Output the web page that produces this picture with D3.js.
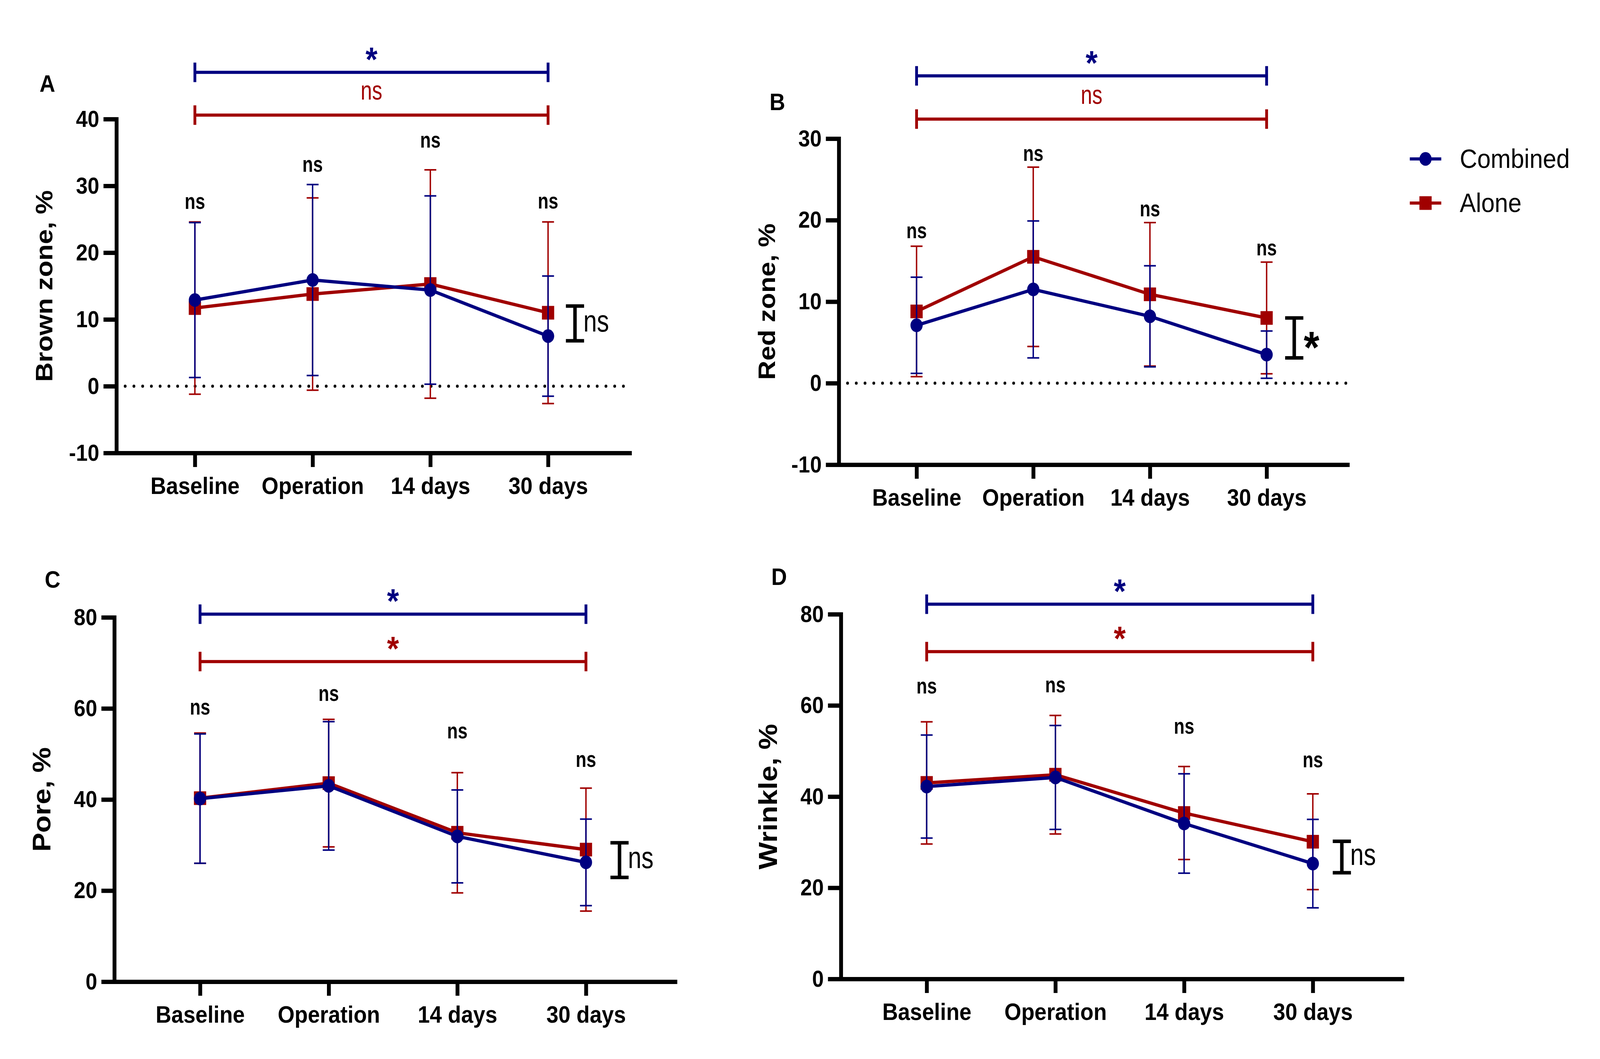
<!DOCTYPE html>
<html>
<head>
<meta charset="utf-8">
<script src="https://cdn.jsdelivr.net/npm/d3@7"></script>
<style>
  html, body { margin: 0; padding: 0; overflow: hidden; background: #fff; }
  svg { display: block; width: 100vw; height: 100vh; }
</style>
</head>
<body>
<svg id="chart" viewBox="0 0 4576 2712" preserveAspectRatio="none"></svg>
<script>
// ---- data ----
const categories = ['Baseline', 'Operation', '14 days', '30 days'];
const seriesNames = ['Combined', 'Alone'];

// A - brown zone
const brownCombinedMean = [12.9, 15.9, 14.4, 7.5];
const brownCombinedSD   = [11.6, 14.3, 14.1, 9.0];
const brownAloneMean    = [11.7, 13.8, 15.3, 11.0];
const brownAloneSD      = [12.9, 14.4, 17.1, 13.6];
const brownTicks        = [-10, 0, 10, 20, 30, 40];
const brownNsLevels     = [27.4, 33.0, 36.6, 27.5];
const brownBrackets     = [47.0, 40.6];          // combined, alone
const brownBracketText  = ['*', 'ns'];
const brownEndRange     = [6.8, 12.0];
const brownEndText      = 'ns';

// B - red zone
const redCombinedMean = [7.1, 11.5, 8.2, 3.5];
const redCombinedSD   = [5.9, 8.4, 6.2, 2.9];
const redAloneMean    = [8.8, 15.5, 10.9, 8.0];
const redAloneSD      = [8.0, 11.0, 8.8, 6.85];
const redTicks        = [-10, 0, 10, 20, 30];
const redNsLevels     = [18.5, 28.0, 21.2, 16.4];
const redBrackets     = [37.7, 32.4];
const redBracketText  = ['*', 'ns'];
const redEndRange     = [3.1, 8.0];
const redEndText      = '*';

// C - pore
const poreCombinedMean = [40.2, 43.0, 31.9, 26.2];
const poreCombinedSD   = [14.2, 14.1, 10.2, 9.5];
const poreAloneMean    = [40.3, 43.6, 32.7, 29.0];
const poreAloneSD      = [14.3, 14.0, 13.2, 13.5];
const poreTicks        = [0, 20, 40, 60, 80];
const poreNsLevels     = [59.9, 62.9, 54.7, 48.4];
const poreBrackets     = [80.7, 70.3];
const poreBracketText  = ['*', '*'];
const poreEndRange     = [22.9, 30.5];
const poreEndText      = 'ns';

// D - wrinkle
const wrinkleCombinedMean = [42.2, 44.2, 34.1, 25.3];
const wrinkleCombinedSD   = [11.3, 11.4, 10.9, 9.7];
const wrinkleAloneMean    = [43.0, 44.8, 36.4, 30.1];
const wrinkleAloneSD      = [13.4, 13.0, 10.2, 10.5];
const wrinkleTicks        = [0, 20, 40, 60, 80];
const wrinkleNsLevels     = [63.9, 64.1, 55.1, 47.7];
const wrinkleBrackets     = [82.2, 71.8];
const wrinkleBracketText  = ['*', '*'];
const wrinkleEndRange     = [23.3, 30.2];
const wrinkleEndText      = 'ns';

// ---- styling ----
const FONT = '"Liberation Sans", Arial, sans-serif';
const colors = { Combined: '#000080', Alone: '#a00000' };

const panels = [
  { letter: 'A', title: 'Brown zone, %', left: 333, right: 1801, top: 305, bottom: 1160,
    domain: [-10, 40], ticks: brownTicks, zero: true, titleSize: 69, letterPos: [113, 235], endOffset: 77,
    series: { Combined: [brownCombinedMean, brownCombinedSD], Alone: [brownAloneMean, brownAloneSD] },
    ns: brownNsLevels, brackets: brownBrackets, bracketText: brownBracketText,
    endRange: brownEndRange, endText: brownEndText },
  { letter: 'B', title: 'Red zone, %', left: 2399, right: 3854, top: 355, bottom: 1190,
    domain: [-10, 30], ticks: redTicks, zero: true, titleSize: 68, letterPos: [2201, 282], endOffset: 79,
    series: { Combined: [redCombinedMean, redCombinedSD], Alone: [redAloneMean, redAloneSD] },
    ns: redNsLevels, brackets: redBrackets, bracketText: redBracketText,
    endRange: redEndRange, endText: redEndText },
  { letter: 'C', title: 'Pore, %', left: 327, right: 1931, top: 1581, bottom: 2514,
    domain: [0, 80], ticks: poreTicks, zero: false, titleSize: 73, letterPos: [128, 1505], endOffset: 96,
    series: { Combined: [poreCombinedMean, poreCombinedSD], Alone: [poreAloneMean, poreAloneSD] },
    ns: poreNsLevels, brackets: poreBrackets, bracketText: poreBracketText,
    endRange: poreEndRange, endText: poreEndText },
  { letter: 'D', title: 'Wrinkle, %', left: 2405, right: 4010, top: 1573, bottom: 2507,
    domain: [0, 80], ticks: wrinkleTicks, zero: false, titleSize: 74, letterPos: [2206, 1498], endOffset: 83,
    series: { Combined: [wrinkleCombinedMean, wrinkleCombinedSD], Alone: [wrinkleAloneMean, wrinkleAloneSD] },
    ns: wrinkleNsLevels, brackets: wrinkleBrackets, bracketText: wrinkleBracketText,
    endRange: wrinkleEndRange, endText: wrinkleEndText }
];

const svg = d3.select('#chart');

function marker(g, name, cx, cy) {
  if (name === 'Combined') {
    g.append('circle').attr('cx', cx).attr('cy', cy).attr('r', 17.5).attr('fill', colors[name]);
  } else {
    g.append('rect').attr('x', cx - 17.5).attr('y', cy - 17.5)
      .attr('width', 35).attr('height', 35).attr('fill', colors[name]);
  }
}

// the "ns" marks in the figure are set a little narrow
function nsText(g, x, yc, size, weight, color, anchor, sx) {
  return g.append('text')
    .attr('transform', `translate(${x},${yc + 0.26 * size}) scale(${sx},1)`)
    .attr('text-anchor', anchor).attr('font-family', FONT).attr('font-weight', weight)
    .attr('font-size', size).attr('fill', color).text('ns');
}

function starText(g, x, yc, size, color, anchor) {
  return g.append('text').attr('x', x).attr('y', yc + 0.55 * size)
    .attr('text-anchor', anchor).attr('font-family', FONT).attr('font-weight', 'bold')
    .attr('font-size', size).attr('fill', color).text('*');
}

function drawPanel(p) {
  const g = svg.append('g').attr('class', 'panel');

  const y = d3.scaleLinear().domain(p.domain).range([p.bottom, p.top]);
  const x = d3.scalePoint().domain(categories).range([p.left, p.right]).padding(0.68).align(0.49);

  // axes
  const yAxis = g.append('g').attr('transform', `translate(${p.left},0)`)
    .call(d3.axisLeft(y).tickValues(p.ticks).tickFormat(d => String(d))
      .tickSize(37).tickSizeOuter(0).tickPadding(12));
  const xAxis = g.append('g').attr('transform', `translate(0,${p.bottom})`)
    .call(d3.axisBottom(x).tickSize(36).tickSizeOuter(0).tickPadding(25));

  [yAxis, xAxis].forEach(a => {
    a.attr('font-family', FONT).attr('font-weight', 'bold');
    a.select('.domain').attr('stroke', '#000').attr('stroke-width', 11).attr('stroke-linecap', 'square');
    a.selectAll('.tick line').attr('stroke', '#000').attr('stroke-width', 11);
    a.selectAll('.tick text').attr('fill', '#000');
  });
  yAxis.attr('font-size', 60);
  xAxis.attr('font-size', 62);

  // axis title (baseline sits 183px left of the axis)
  g.append('text')
    .attr('transform', `translate(${p.left - 183},${(p.top + p.bottom) / 2}) rotate(-90)`)
    .attr('text-anchor', 'middle')
    .attr('font-family', FONT).attr('font-weight', 'bold').attr('font-size', p.titleSize)
    .text(p.title);

  // panel letter
  g.append('text').attr('x', p.letterPos[0]).attr('y', p.letterPos[1])
    .attr('font-family', FONT).attr('font-weight', 'bold').attr('font-size', 62).text(p.letter);

  // dotted zero line
  if (p.zero) {
    g.append('line').attr('x1', p.left + 25).attr('x2', p.right).attr('y1', y(0)).attr('y2', y(0))
      .attr('stroke', '#000').attr('stroke-width', 8).attr('stroke-linecap', 'round')
      .attr('stroke-dasharray', '0 25');
  }

  // series: Alone below, Combined on top
  ['Alone', 'Combined'].forEach(name => {
    const [mean, sd] = p.series[name];
    const col = colors[name];
    const sg = g.append('g');
    categories.forEach((c, i) => {
      const cx = x(c);
      const hi = y(mean[i] + sd[i]), lo = y(mean[i] - sd[i]);
      sg.append('line').attr('x1', cx).attr('x2', cx).attr('y1', hi).attr('y2', lo)
        .attr('stroke', col).attr('stroke-width', 4);
      [hi, lo].forEach(v => sg.append('line').attr('x1', cx - 17).attr('x2', cx + 17)
        .attr('y1', v).attr('y2', v).attr('stroke', col).attr('stroke-width', 4));
    });
    sg.append('path')
      .datum(mean)
      .attr('d', d3.line().x((d, i) => x(categories[i])).y(d => y(d)))
      .attr('fill', 'none').attr('stroke', col).attr('stroke-width', 8.5);
    mean.forEach((m, i) => marker(sg, name, x(categories[i]), y(m)));
  });

  // "ns" between groups at each time point
  p.ns.forEach((lv, i) => nsText(g, x(categories[i]), y(lv), 57, 'bold', '#000', 'middle', 0.88));

  // baseline vs 30 days brackets
  const x0 = x(categories[0]), x1 = x(categories[categories.length - 1]);
  seriesNames.forEach((name, k) => {
    const by = y(p.brackets[k]);
    const col = colors[name];
    g.append('line').attr('x1', x0).attr('x2', x1).attr('y1', by).attr('y2', by)
      .attr('stroke', col).attr('stroke-width', 8);
    [x0, x1].forEach(bx => g.append('line').attr('x1', bx).attr('x2', bx)
      .attr('y1', by - 25).attr('y2', by + 25).attr('stroke', col).attr('stroke-width', 8));
    const mid = (x0 + x1) / 2;
    if (p.bracketText[k] === '*') starText(g, mid, by - 52, 88, col, 'middle');
    else nsText(g, mid, by - 57, 68, 'normal', col, 'middle', 0.86);
  });

  // between-group bracket at 30 days
  const ex = x1 + p.endOffset;
  const ey0 = y(p.endRange[0]), ey1 = y(p.endRange[1]);
  g.append('line').attr('x1', ex).attr('x2', ex).attr('y1', ey0).attr('y2', ey1)
    .attr('stroke', '#000').attr('stroke-width', 10);
  [ey0, ey1].forEach(v => g.append('line').attr('x1', ex - 26).attr('x2', ex + 26)
    .attr('y1', v).attr('y2', v).attr('stroke', '#000').attr('stroke-width', 9));
  const emid = (ey0 + ey1) / 2;
  if (p.endText === '*') starText(g, ex + 27, emid, 115, '#000', 'start');
  else nsText(g, ex + 24, emid, 78, 'normal', '#000', 'start', 0.89);
}

panels.forEach(drawPanel);

// legend
const legend = svg.append('g').attr('class', 'legend');
seriesNames.forEach((name, i) => {
  const ly = 407 + i * 113;
  legend.append('line').attr('x1', 4032).attr('x2', 4122).attr('y1', ly).attr('y2', ly)
    .attr('stroke', colors[name]).attr('stroke-width', 8);
  marker(legend, name, 4077, ly);
  legend.append('text').attr('x', 4175).attr('y', ly + 23)
    .attr('font-family', FONT).attr('font-size', 69).text(name);
});
</script>
</body>
</html>
